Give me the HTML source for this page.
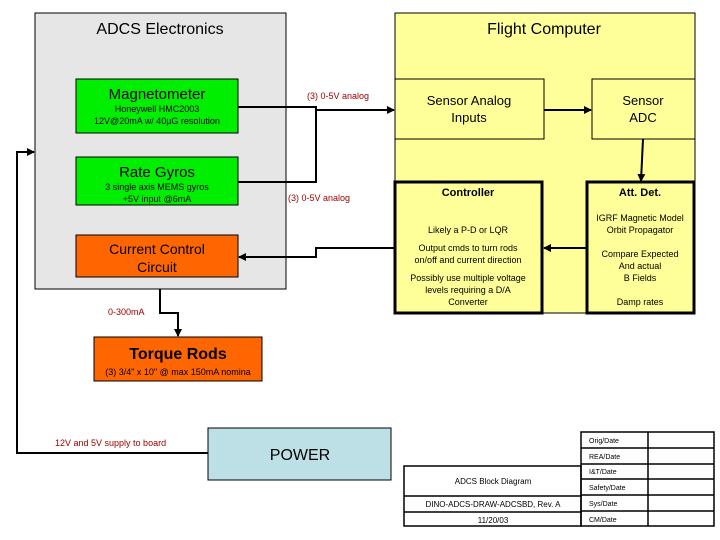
<!DOCTYPE html>
<html><head><meta charset="utf-8"><style>
html,body{margin:0;padding:0;background:#fff;}
svg{display:block;font-family:"Liberation Sans",sans-serif;}
</style></head><body>
<svg width="720" height="540" viewBox="0 0 720 540" xmlns="http://www.w3.org/2000/svg">
<defs><marker id="a" markerWidth="8" markerHeight="8" refX="7" refY="4" orient="auto" markerUnits="userSpaceOnUse"><path d="M0,0 L8,4 L0,8 z" fill="#000"/></marker></defs>
<!-- main boxes -->
<rect x="35" y="13" width="251" height="276" fill="#e6e6e6" stroke="#000"/>
<text x="160" y="34" text-anchor="middle" font-size="16">ADCS Electronics</text>
<rect x="395" y="13" width="300" height="300" fill="#ffff99" stroke="#000"/>
<text x="544" y="34" text-anchor="middle" font-size="16">Flight Computer</text>
<!-- Magnetometer -->
<rect x="76" y="79" width="162" height="54" fill="#00ee00" stroke="#000"/>
<text x="157" y="99" text-anchor="middle" font-size="15">Magnetometer</text>
<text x="157" y="112" text-anchor="middle" font-size="9">Honeywell HMC2003</text>
<text x="157" y="124" text-anchor="middle" font-size="9">12V@20mA w/ 40µG resolution</text>
<!-- Rate gyros -->
<rect x="76" y="157" width="162" height="48" fill="#00ee00" stroke="#000"/>
<text x="157" y="177" text-anchor="middle" font-size="15">Rate Gyros</text>
<text x="157" y="190" text-anchor="middle" font-size="9">3 single axis MEMS gyros</text>
<text x="157" y="202" text-anchor="middle" font-size="9">+5V input @6mA</text>
<!-- Current control -->
<rect x="76" y="235" width="162" height="42" fill="#ff6600" stroke="#000"/>
<text x="157" y="254" text-anchor="middle" font-size="14">Current Control</text>
<text x="157" y="272" text-anchor="middle" font-size="14">Circuit</text>
<!-- Torque rods -->
<rect x="94" y="337" width="168" height="44" fill="#ff6600" stroke="#000"/>
<text x="178" y="359" text-anchor="middle" font-size="16" font-weight="bold">Torque Rods</text>
<text x="178" y="375" text-anchor="middle" font-size="9">(3) 3/4" x 10" @ max 150mA nomina</text>
<!-- FC inner boxes -->
<rect x="395" y="79" width="149" height="60" fill="#ffff99" stroke="#000"/>
<text x="469" y="105" text-anchor="middle" font-size="13">Sensor Analog</text>
<text x="469" y="122" text-anchor="middle" font-size="13">Inputs</text>
<rect x="592" y="79" width="103" height="60" fill="#ffff99" stroke="#000"/>
<text x="643" y="105" text-anchor="middle" font-size="13">Sensor</text>
<text x="643" y="122" text-anchor="middle" font-size="13">ADC</text>
<rect x="395" y="182" width="147" height="131" fill="#ffff99" stroke="#000" stroke-width="3"/>
<text x="468" y="196" text-anchor="middle" font-size="11" font-weight="bold">Controller</text>
<text x="468" y="233" text-anchor="middle" font-size="9">Likely a P-D or LQR</text>
<text x="468" y="251" text-anchor="middle" font-size="9">Output cmds to turn rods</text>
<text x="468" y="263" text-anchor="middle" font-size="9">on/off and current direction</text>
<text x="468" y="281" text-anchor="middle" font-size="9">Possibly use multiple voltage</text>
<text x="468" y="293" text-anchor="middle" font-size="9">levels requiring a D/A</text>
<text x="468" y="305" text-anchor="middle" font-size="9">Converter</text>
<rect x="587" y="182" width="107" height="131" fill="#ffff99" stroke="#000" stroke-width="3"/>
<text x="640" y="196" text-anchor="middle" font-size="11" font-weight="bold">Att. Det.</text>
<text x="640" y="221" text-anchor="middle" font-size="9">IGRF Magnetic Model</text>
<text x="640" y="233" text-anchor="middle" font-size="9">Orbit Propagator</text>
<text x="640" y="257" text-anchor="middle" font-size="9">Compare Expected</text>
<text x="640" y="269" text-anchor="middle" font-size="9">And actual</text>
<text x="640" y="281" text-anchor="middle" font-size="9">B Fields</text>
<text x="640" y="305" text-anchor="middle" font-size="9">Damp rates</text>
<!-- connectors -->
<g stroke="#000" stroke-width="2" fill="none">
<path d="M238,107 H316 V182 H238"/>
<path d="M316,110 H394" marker-end="url(#a)"/>
<path d="M544,110 H591" marker-end="url(#a)"/>
<path d="M643,139 L641,181" marker-end="url(#a)"/>
<path d="M586,248 H544" marker-end="url(#a)"/>
<path d="M395,248 H316 V257 H239" marker-end="url(#a)"/>
<path d="M160,289 V313 H178 V336" marker-end="url(#a)"/>
<path d="M208,453 H17 V152 H34" marker-end="url(#a)"/>
</g>
<text x="307" y="99" font-size="9" fill="#a00000">(3) 0-5V analog</text>
<text x="288" y="201" font-size="9" fill="#a00000">(3) 0-5V analog</text>
<text x="108" y="315" font-size="9" fill="#a00000">0-300mA</text>
<text x="55" y="446" font-size="9" fill="#a00000">12V and 5V supply to board</text>
<!-- POWER -->
<rect x="208" y="428" width="183" height="52" fill="#bde0e6" stroke="#000"/>
<text x="300" y="460" text-anchor="middle" font-size="16">POWER</text>
<!-- title block -->
<g stroke="#000" stroke-width="1.5" fill="none">
<rect x="581" y="432" width="133" height="94"/>
<line x1="648" y1="432" x2="648" y2="526"/>
<line x1="581" y1="448" x2="714" y2="448"/>
<line x1="581" y1="464" x2="714" y2="464"/>
<line x1="581" y1="479" x2="714" y2="479"/>
<line x1="581" y1="495" x2="714" y2="495"/>
<line x1="581" y1="511" x2="714" y2="511"/>
<rect x="404" y="466" width="177" height="60"/>
<line x1="404" y1="496" x2="581" y2="496"/>
<line x1="404" y1="512" x2="581" y2="512"/>
</g>
<g font-size="7">
<text x="589" y="443">Orig/Date</text>
<text x="589" y="459">REA/Date</text>
<text x="589" y="474">I&amp;T/Date</text>
<text x="589" y="490">Safety/Date</text>
<text x="589" y="506">Sys/Date</text>
<text x="589" y="522">CM/Date</text>
</g>
<g font-size="8" text-anchor="middle">
<text x="493" y="484">ADCS Block Diagram</text>
<text x="493" y="507">DINO-ADCS-DRAW-ADCSBD, Rev. A</text>
<text x="493" y="523">11/20/03</text>
</g>
</svg>
</body></html>
